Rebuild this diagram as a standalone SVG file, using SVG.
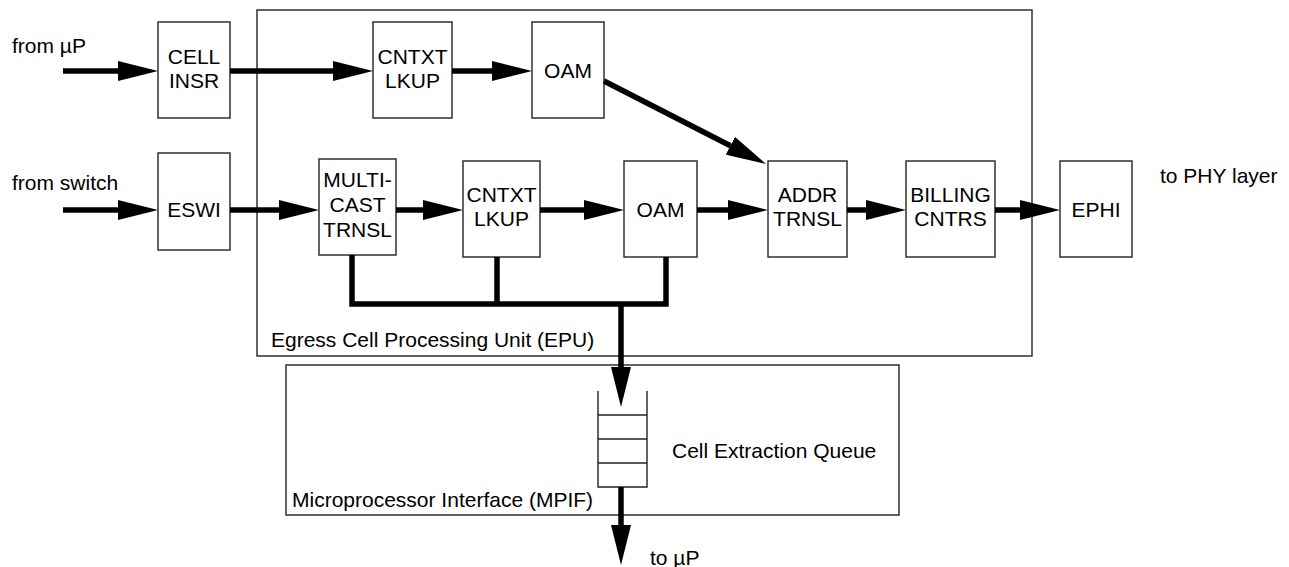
<svg xmlns="http://www.w3.org/2000/svg" width="1289" height="567" viewBox="0 0 1289 567">
<style>
.box{fill:#fff;stroke:#222;stroke-width:1.4}
.frame{fill:none;stroke:#222;stroke-width:1.4}
.t{font-family:"Liberation Sans",Arial,sans-serif;font-size:21px;fill:#000}
.c{text-anchor:middle}
.w{fill:none;stroke:#000;stroke-width:5.5}
.q{fill:none;stroke:#222;stroke-width:1.4}
</style>
<defs>
<marker id="ah" markerUnits="userSpaceOnUse" markerWidth="40" markerHeight="20" viewBox="0 0 40 20" refX="0" refY="10" orient="auto">
<path d="M0,0 L40,10 L0,20 Z" fill="#000"/>
</marker>
</defs>
<g id="epu">
<rect class="frame" x="257" y="10" width="775" height="346"/>
<text class="t" x="271" y="347">Egress Cell Processing Unit (EPU)</text>
</g>
<g id="mpif">
<rect class="frame" x="286" y="365" width="613" height="150"/>
<text class="t" x="292" y="507">Microprocessor Interface (MPIF)</text>
</g>
<g id="cell-insr"><rect class="box" x="158" y="22" width="72" height="96"/><text class="t c" x="194" y="64">CELL</text><text class="t c" x="194" y="88">INSR</text></g>
<g id="cntxt-top"><rect class="box" x="373" y="22" width="79" height="96"/><text class="t c" x="412.5" y="64">CNTXT</text><text class="t c" x="412.5" y="88">LKUP</text></g>
<g id="oam-top"><rect class="box" x="532" y="22" width="72" height="96"/><text class="t c" x="568" y="78">OAM</text></g>
<g id="eswi"><rect class="box" x="158" y="153" width="72" height="97"/><text class="t c" x="194" y="217">ESWI</text></g>
<g id="multicast"><rect class="box" x="319" y="159" width="77" height="96"/><text class="t c" x="357.5" y="187">MULTI-</text><text class="t c" x="357.5" y="212">CAST</text><text class="t c" x="357.5" y="237">TRNSL</text></g>
<g id="cntxt-bot"><rect class="box" x="463" y="161" width="77" height="96"/><text class="t c" x="501.5" y="202">CNTXT</text><text class="t c" x="501.5" y="226">LKUP</text></g>
<g id="oam-bot"><rect class="box" x="624" y="161" width="73" height="96"/><text class="t c" x="660.5" y="217">OAM</text></g>
<g id="addr"><rect class="box" x="768" y="161" width="79" height="96"/><text class="t c" x="807.5" y="202">ADDR</text><text class="t c" x="807.5" y="226">TRNSL</text></g>
<g id="billing"><rect class="box" x="906" y="161" width="89" height="96"/><text class="t c" x="950.5" y="202">BILLING</text><text class="t c" x="950.5" y="226">CNTRS</text></g>
<g id="ephi"><rect class="box" x="1060" y="161" width="72" height="96"/><text class="t c" x="1096" y="217">EPHI</text></g>
<g id="queue">
<path class="q" d="M598,391 V487 H647 V391 M598,415 H647 M598,439 H647 M598,463 H647"/>
<text class="t" x="672" y="458">Cell Extraction Queue</text>
</g>
<g id="labels">
<text class="t" x="12" y="53">from µP</text>
<text class="t" x="12" y="190">from switch</text>
<text class="t" x="1160" y="183">to PHY layer</text>
<text class="t" x="650" y="565">to µP</text>
</g>
<g id="connectors">
<path class="w" d="M63,71 H118" marker-end="url(#ah)"/>
<path class="w" d="M230,71 H333" marker-end="url(#ah)"/>
<path class="w" d="M452,71 H492" marker-end="url(#ah)"/>
<path class="w" d="M604,81 L730.4,145.7" marker-end="url(#ah)"/>
<path class="w" d="M63,210 H118" marker-end="url(#ah)"/>
<path class="w" d="M230,210 H279" marker-end="url(#ah)"/>
<path class="w" d="M396,210 H423" marker-end="url(#ah)"/>
<path class="w" d="M540,210 H584" marker-end="url(#ah)"/>
<path class="w" d="M697,210 H728" marker-end="url(#ah)"/>
<path class="w" d="M847,210 H866" marker-end="url(#ah)"/>
<path class="w" d="M995,210 H1020" marker-end="url(#ah)"/>
<path class="w" d="M352,255 V304 H666 V257 M497,257 V304"/>
<path class="w" d="M621,304 V367" marker-end="url(#ah)"/>
<path class="w" d="M621,487 V525" marker-end="url(#ah)"/>
</g>
</svg>
